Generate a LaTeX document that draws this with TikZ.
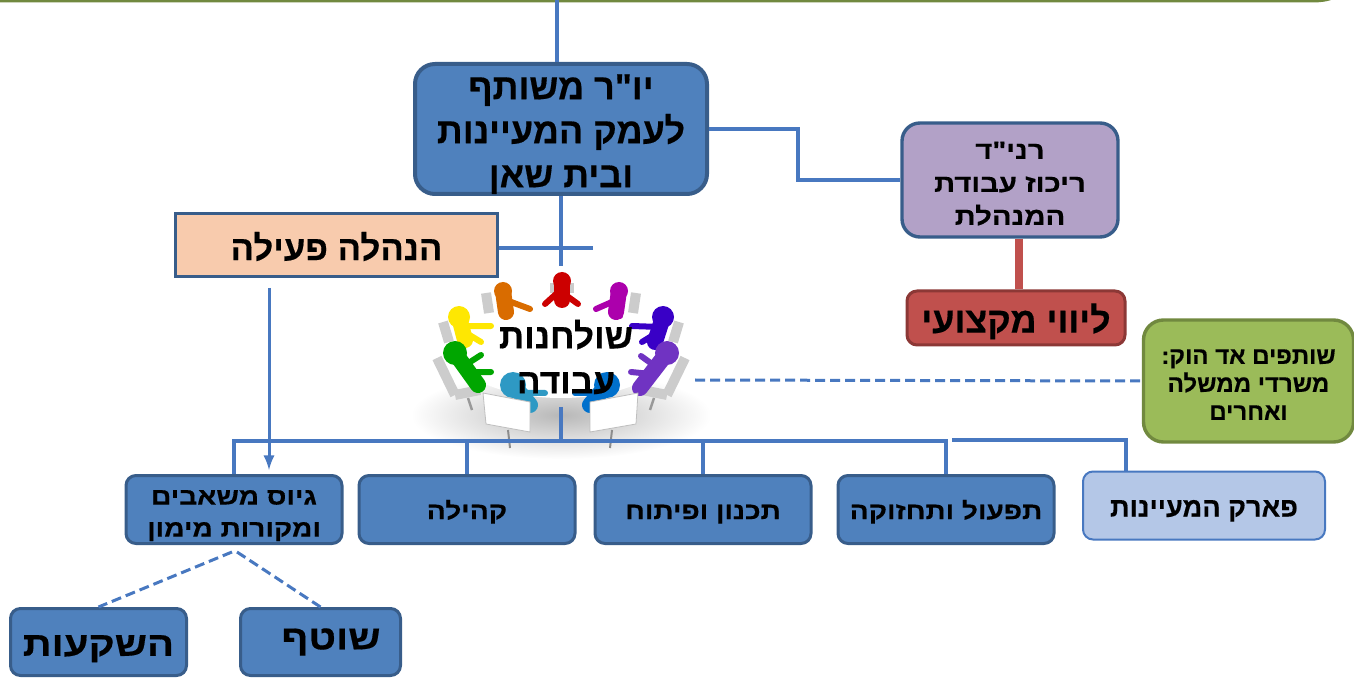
\documentclass[tikz,border=0pt]{standalone}
\usepackage{fontspec}
\usetikzlibrary{calc}
\TeXXeTstate=1
\newfontfamily\hebfont[Script=Hebrew, BoldFeatures={FakeBold=0.4}]{Liberation Sans}
\newfontfamily\hebwide[Script=Hebrew, FakeStretch=1.18, BoldFeatures={FakeBold=0.4}]{Liberation Sans}
\def\rtl#1{\beginR#1\endR}
\def\hebsize#1#2{\hebfont\bfseries\fontsize{#1}{#2}\selectfont}
\def\widesize#1#2{\hebwide\bfseries\fontsize{#1}{#2}\selectfont}
\definecolor{boxblue}{HTML}{4F81BD}
\definecolor{edgeblue}{HTML}{385D8A}
\definecolor{linkblue}{HTML}{4878C0}
\definecolor{lightblue}{HTML}{B4C7E7}
\definecolor{peach}{HTML}{F8CBAD}
\definecolor{lilac}{HTML}{B2A1C7}
\definecolor{brick}{HTML}{C0504D}
\definecolor{brickedge}{HTML}{8C3836}
\definecolor{leaf}{HTML}{9BBB59}
\definecolor{leafedge}{HTML}{71893F}
\tikzset{
	textdrop/.style={execute at begin node={\rule{0pt}{#1}}},
	hebbox/.style={draw=edgeblue, fill=boxblue, line width=1.5pt, rounded corners=5pt, align=center, inner sep=0pt, text=black, textdrop=1em},
	link/.style={color=linkblue, line width=2.3pt},
	dashlink/.style={color=linkblue, line width=1.5pt, dash pattern=on 5pt off 2.5pt}
}
\begin{document}
\begin{tikzpicture}[x=0.5pt, y=-0.5pt, font=\hebfont\bfseries]
			\useasboundingbox (0, 0) rectangle (1354, 678);
			
			%%%%% top edge %%%%%
			\draw[line width=2.5pt, color=leafedge] (0, 0) -- (1310, 0) .. controls (1322, 0) and (1330, -1) .. (1338, -6);
			
			%%%%% table picture %%%%%
			\shade[inner color=black!28, outer color=white] (561, 415) ellipse (150 and 44);
			\fill[white] (561, 345) ellipse (112 and 53);
			\foreach \ux/\uy/\vx/\vy in {550/288/574/288, 486/293/489/313, 636/293/633/313, 443/322/449/342, 679/322/673/342, 437/358/455/395, 455/395/480/390, 685/358/667/395, 667/395/642/390}{
				\draw[line width=5pt, color=black!20] (\ux, \uy) -- (\vx, \vy);
			}
			\draw[line width=1.2pt, color=black!40] (468, 398) -- (472, 410);
			\draw[line width=1.2pt, color=black!40] (654, 398) -- (650, 410);
			\foreach \hx/\hy/\rad/\px/\py/\ax/\ay/\bx/\by/\col in {
				562/281/9/562/300/545/304/578/304/red!80!black,
				503/291/9/506/312/530/309/505/316/orange!85!black,
				619/291/9/616/312/596/309/620/316/violet!65!magenta,
				459/317/11/465/340/491/326/481/342/yellow!90!orange,
				663/317/11/655/342/632/326/642/342/blue!55!violet,
				455/353/12/478/385/481/355/491/372/green!65!black,
				667/353/12/640/388/641/356/631/372/blue!40!violet!80!white,
				513/385/13/530/405/545/393/535/405/cyan!55!teal,
				607/385/13/590/405/575/393/585/405/blue!45!cyan!80!black}{
				\draw[line width=8pt, color=\col, line cap=round] (\hx, \hy) -- (\px, \py);
				\draw[line width=3pt, color=\col, line cap=round] ($(\hx, \hy)!0.4!(\px, \py)$) -- (\ax, \ay);
				\draw[line width=3pt, color=\col, line cap=round] ($(\hx, \hy)!0.6!(\px, \py)$) -- (\bx, \by);
				\fill[color=\col] (\hx, \hy) circle (\rad);
			}
			\draw[fill=white, draw=black!25] (483, 393) -- (530, 402) -- (530, 432) -- (486, 424) -- cycle;
			\draw[fill=white, draw=black!25] (638, 393) -- (590, 402) -- (590, 432) -- (636, 424) -- cycle;
			\draw[line width=1pt, color=black!45] (508, 430) -- (510, 448);
			\draw[line width=1pt, color=black!45] (612, 430) -- (610, 448);
			
			%%%%% boxes %%%%%
			\node[hebbox, line width=2pt, rounded corners=10pt, minimum width=146pt, minimum height=65pt, font=\hebsize{18}{22}] (chair) at (561, 129) {\rule{0pt}{17.6pt}\rtl{יו"ר משותף}\\\rtl{לעמק המעיינות}\\\rtl{ובית שאן}};
			\node[draw=edgeblue, fill=peach, line width=1.2pt, minimum width=161pt, minimum height=31.5pt, inner sep=0pt, font=\hebsize{17.4}{20}, textdrop=0.9em] (mgmt) at (336.5, 245) {\rtl{הנהלה פעילה}};
			\node[hebbox, fill=lilac, line width=1.7pt, rounded corners=9pt, minimum width=108pt, minimum height=57pt, font=\widesize{12.4}{16.5}] (rani) at (1010, 180) {\rule{0pt}{12.2pt}\rtl{רני"ד}\\\rtl{ריכוז עבודת}\\\rtl{המנהלת}};
			\node[hebbox, draw=brickedge, fill=brick, minimum width=109pt, minimum height=27pt, font=\hebsize{18}{20}] (support) at (1016, 318) {\rtl{ליווי מקצועי}};
			\node[hebbox, draw=leafedge, fill=leaf, line width=1.7pt, rounded corners=10pt, minimum width=105pt, minimum height=61pt, font=\hebsize{12}{14}] (adhoc) at (1248.5, 381) {\rule{0pt}{10.9pt}\rtl{שותפים אד הוק:}\\\rtl{משרדי ממשלה}\\\rtl{ואחרים}};
			
			\node[hebbox, minimum width=108pt, minimum height=34pt, font=\widesize{11.9}{16}] (fund) at (234, 509.5) {\rule{0pt}{13.3pt}\rtl{גיוס משאבים}\\\rtl{ומקורות מימון}};
			\node[hebbox, minimum width=108pt, minimum height=34pt, font=\widesize{11.9}{16}] (community) at (467, 509.5) {\rtl{קהילה}};
			\node[hebbox, minimum width=108pt, minimum height=34pt, font=\widesize{11.9}{16}] (plan) at (703, 509.5) {\rtl{תכנון ופיתוח}};
			\node[hebbox, minimum width=108pt, minimum height=34pt, font=\widesize{11.9}{16}] (ops) at (946, 509.5) {\rtl{תפעול ותחזוקה}};
			\node[hebbox, draw=linkblue, fill=lightblue, line width=1pt, minimum width=121pt, minimum height=34pt, font=\hebsize{13.6}{16}] (park) at (1204, 505.5) {\rtl{פארק המעיינות}};
			
			\node[hebbox, minimum width=88pt, minimum height=33.5pt, font=\widesize{17}{22}] (invest) at (98.5, 642) {\rtl{השקעות}};
			\node[hebbox, minimum width=80pt, minimum height=33.5pt] (partner) at (320.5, 642) {};
			\node[font=\widesize{17}{22}] (partnertext) at (331, 642) {\rtl{שוטף}};
			
			%%%%% connectors %%%%%
			\coordinate (topedge) at (557, 0);
			\coordinate (chairbend) at (798, 129);
			\coordinate (tabletop) at (561, 266);
			\coordinate (tablefoot) at (561, 407);
			\coordinate (busjoint) at (561, 441);
			\coordinate (mgmtend) at (593, 248);
			\coordinate (mgmtfoot) at (269, 288);
			\coordinate (tablehint) at (695, 380);
			\coordinate (parkstart) at (952, 440);
			\coordinate (parkdrop) at (1126, 471);
			\coordinate (fundleft) at (232, 552);
			\coordinate (fundright) at (237, 552);
			
			\draw[link] (topedge) -- (topedge |- chair.north);
			\draw[link] (chair.south) -- (tabletop);
			\draw[link] (chair.east) -- (chairbend) |- (rani.west);
			\draw[link, line width=1.8pt] (mgmt.east |- mgmtend) -- (mgmtend);
			\draw[line width=3.8pt, color=brick] ($(rani.south)+(9, 0)$) -- ($(support.north)+(3, 0)$);
			\draw[link, line width=1.5pt, -latex] (mgmtfoot) -- ($(mgmtfoot |- fund.north)+(0, -4)$);
			\draw[dashlink] (tablehint) -- (adhoc.west);
			
			\draw[link] (tablefoot) -- (busjoint);
			\draw[link] (fund.north) |- (busjoint);
			\draw[link] (community.north) |- (busjoint);
			\draw[link] (plan.north) |- (busjoint);
			\draw[link] (ops.north) |- (busjoint);
			\draw[link] (parkstart) -| (parkdrop);
			
			\draw[dashlink] (fundleft) -- (invest.north);
			\draw[dashlink] (fundright) -- (partner.north);
			
			%%%%% table label %%%%%
			\node[align=center, font=\hebsize{17.6}{22.5}] (tabletext) at (566, 357) {\rtl{שולחנות}\\\rtl{עבודה}};
			
			%%%%% END %%%%%
\end{tikzpicture}
\end{document}
